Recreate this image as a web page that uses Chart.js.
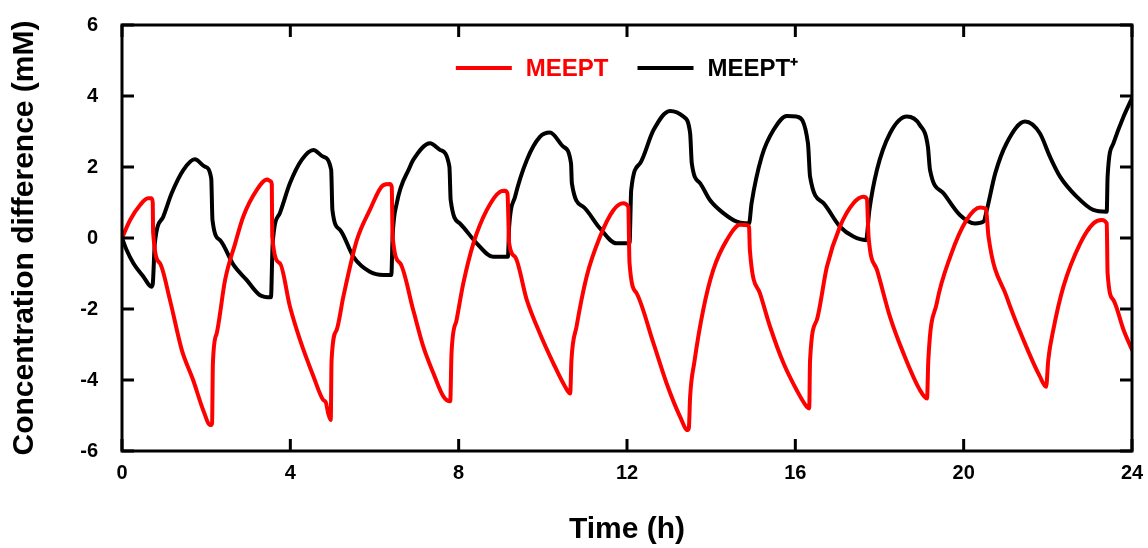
<!DOCTYPE html>
<html>
<head>
<meta charset="utf-8">
<title>Concentration difference</title>
<script src="https://cdn.jsdelivr.net/npm/chart.js@4.4.1/dist/chart.umd.min.js"></script>
<style>
  html, body { margin: 0; padding: 0; background: #fff; }
  #wrap { width: 1148px; height: 548px; }
</style>
</head>
<body>
<div id="wrap"><canvas id="chart" width="1148" height="548"></canvas></div>
<script>
// MEEPT trace (time in h, difference in mM)
const meeptTime = [
  0, 0.19, 0.43, 0.62, 0.7, 0.73, 0.74, 0.9, 1.14, 1.42, 1.69, 1.93, 2.1, 2.14, 2.16, 2.25, 2.45, 2.69, 2.88, 3.2,
  3.45, 3.53, 3.56, 3.57, 3.75, 3.99, 4.23, 4.55, 4.78, 4.84, 4.9, 4.96, 4.98, 5.1, 5.26, 5.58, 5.89, 6.21, 6.36, 6.41,
  6.43, 6.61, 6.92, 7.16, 7.4, 7.64, 7.8, 7.83, 7.95, 8.11, 8.35, 8.67, 8.98, 9.1, 9.16, 9.2, 9.34, 9.62, 9.93, 10.25,
  10.53, 10.65, 10.68, 10.8, 11.04, 11.36, 11.68, 11.91, 12.03, 12.06, 12.23, 12.63, 12.94, 13.26, 13.44, 13.47, 13.5, 13.6, 13.81, 14.05,
  14.37, 14.69, 14.86, 14.9, 14.92, 15.16, 15.4, 15.72, 16.03, 16.27, 16.33, 16.35, 16.51, 16.75, 17.06, 17.38, 17.62, 17.7, 17.74, 17.94,
  18.25, 18.57, 18.96, 19.13, 19.16, 19.36, 19.68, 20.07, 20.39, 20.53, 20.59, 21.02, 21.42, 21.81, 21.96, 22.01, 22.13, 22.37, 22.77, 23.08,
  23.28, 23.4, 23.42, 23.56, 23.8, 24
];
const meeptValue = [
  0, 0.5, 0.93, 1.12, 1.12, 1.0, 0.15, -0.71, -1.75, -3.15, -4.0, -4.85, -5.27, -5.22, -3.53, -2.69, -1.18, -0.15, 0.6, 1.35,
  1.65, 1.6, 1.5, 0.04, -0.71, -1.93, -2.87, -3.9, -4.56, -4.62, -4.94, -5.13, -3.44, -2.59, -1.65, -0.06, 0.79, 1.49, 1.52, 1.44,
  0.05, -0.71, -2.03, -3.06, -3.81, -4.47, -4.6, -3.25, -2.31, -1.28, -0.15, 0.79, 1.3, 1.33, 1.25, -0.15, -0.53, -1.75, -2.69, -3.53,
  -4.19, -4.38, -3.44, -2.5, -1.09, 0.04, 0.79, 0.98, 0.88, -0.71, -1.56, -2.97, -4.09, -5.03, -5.41, -5.35, -4.47, -3.5, -2.03, -0.9,
  -0.06, 0.37, 0.36, 0.3, -0.34, -1.56, -2.5, -3.53, -4.28, -4.75, -4.8, -3.44, -2.31, -0.81, 0.32, 0.98, 1.16, 1.1, 0.04, -0.9,
  -2.22, -3.25, -4.28, -4.52, -3.44, -1.84, -0.53, 0.51, 0.86, 0.82, 0.04, -1.65, -2.87, -3.9, -4.19, -3.44, -2.59, -1.37, -0.15, 0.41,
  0.51, 0.41, -0.99, -1.75, -2.59, -3.15
];

// MEEPT+ trace
const meeptPlusTime = [
  0, 0.11, 0.27, 0.51, 0.7, 0.73, 0.78, 0.98, 1.18, 1.46, 1.73, 1.97, 2.12, 2.15, 2.33, 2.65, 2.96, 3.28, 3.54, 3.58,
  3.75, 3.99, 4.27, 4.55, 4.78, 4.97, 5.0, 5.18, 5.5, 5.89, 6.21, 6.4, 6.43, 6.53, 6.84, 6.92, 7.32, 7.56, 7.78, 7.81,
  8.03, 8.43, 8.82, 9.17, 9.2, 9.34, 9.62, 9.93, 10.17, 10.49, 10.67, 10.69, 10.96, 11.36, 11.75, 12.06, 12.1, 12.31, 12.63, 13.02,
  13.34, 13.5, 13.54, 13.74, 13.97, 14.29, 14.61, 14.9, 14.96, 15.2, 15.48, 15.8, 16.03, 16.3, 16.35, 16.67, 17.06, 17.38, 17.68, 17.76,
  17.94, 18.25, 18.65, 18.96, 19.15, 19.2, 19.52, 19.91, 20.27, 20.47, 20.55, 20.75, 21.02, 21.46, 21.81, 22.05, 22.29, 22.69, 23.08, 23.4,
  23.42, 23.56, 23.8, 24
];
const meeptPlusValue = [
  0, -0.34, -0.71, -1.09, -1.37, -1.3, -0.15, 0.6, 1.26, 1.92, 2.22, 2.01, 1.68, 0.51, -0.06, -0.76, -1.18, -1.61, -1.67, -0.15,
  0.7, 1.54, 2.2, 2.48, 2.29, 1.92, 0.79, 0.23, -0.53, -0.95, -1.04, -1.04, 0.04, 0.98, 2.0, 2.2, 2.67, 2.48, 2.01, 1.07,
  0.41, -0.15, -0.53, -0.53, 0.32, 1.16, 2.2, 2.85, 2.97, 2.57, 2.1, 1.54, 0.88, 0.27, -0.15, -0.15, 1.35, 2.1, 3.04, 3.58,
  3.42, 2.95, 2.1, 1.54, 1.07, 0.7, 0.46, 0.41, 0.98, 2.29, 3.04, 3.44, 3.42, 2.67, 1.73, 0.98, 0.32, 0.04, -0.06, 0.79,
  1.92, 2.95, 3.42, 3.18, 2.57, 1.92, 1.26, 0.65, 0.41, 0.46, 0.79, 1.82, 2.67, 3.28, 2.95, 2.29, 1.73, 1.16, 0.79, 0.74,
  1.73, 2.67, 3.42, 3.94
];

const seriesLabels = ['MEEPT', 'MEEPT\u207A'];
const seriesColors = ['#ff0000', '#000000'];
const xTicks = [0, 4, 8, 12, 16, 20, 24];
const yTicks = [-6, -4, -2, 0, 2, 4, 6];

const FONT = '"Liberation Sans", Arial, Helvetica, sans-serif';

function toPoints(xs, ys) {
  return xs.map((x, i) => ({ x: x, y: ys[i] }));
}

// box around the plot with inward tick marks on all four sides
const frameTicks = {
  id: 'frameTicks',
  afterDraw(chart) {
    const { ctx, chartArea: a, scales } = chart;
    const len = 12;
    ctx.save();
    ctx.strokeStyle = '#000';
    ctx.lineWidth = 3;
    ctx.beginPath();
    xTicks.forEach(v => {
      const px = scales.x.getPixelForValue(v);
      ctx.moveTo(px, a.bottom); ctx.lineTo(px, a.bottom - len);
      ctx.moveTo(px, a.top); ctx.lineTo(px, a.top + len);
    });
    yTicks.forEach(v => {
      const py = scales.y.getPixelForValue(v);
      ctx.moveTo(a.left, py); ctx.lineTo(a.left + len, py);
      ctx.moveTo(a.right, py); ctx.lineTo(a.right - len, py);
    });
    ctx.stroke();
    ctx.strokeRect(a.left, a.top, a.right - a.left, a.bottom - a.top);
    ctx.restore();
  }
};

// one-row legend sitting inside the top of the plot
const innerLegend = {
  id: 'innerLegend',
  afterDraw(chart) {
    const { ctx, chartArea: a } = chart;
    const lineLen = 56, gap = 14, itemGap = 29;
    const y = a.top + 43;
    ctx.save();
    ctx.font = 'bold 24px ' + FONT;
    ctx.textBaseline = 'middle';
    const items = chart.data.datasets.map(ds => ({
      text: ds.label, color: ds.borderColor, w: lineLen + gap + ctx.measureText(ds.label).width
    }));
    const total = items.reduce((s, it) => s + it.w, 0) + itemGap * (items.length - 1);
    let x = (a.left + a.right) / 2 - total / 2;
    items.forEach(it => {
      ctx.strokeStyle = it.color;
      ctx.lineWidth = 4;
      ctx.beginPath();
      ctx.moveTo(x, y); ctx.lineTo(x + lineLen, y);
      ctx.stroke();
      ctx.fillStyle = it.color;
      ctx.fillText(it.text, x + lineLen + gap, y + 1);
      x += it.w + itemGap;
    });
    ctx.restore();
  }
};

new Chart(document.getElementById('chart'), {
  type: 'line',
  data: {
    datasets: [
      {
        label: seriesLabels[0],
        data: toPoints(meeptTime, meeptValue),
        borderColor: seriesColors[0],
        borderWidth: 4,
        pointRadius: 0,
        cubicInterpolationMode: 'monotone',
        borderJoinStyle: 'round',
        borderCapStyle: 'round'
      },
      {
        label: seriesLabels[1],
        data: toPoints(meeptPlusTime, meeptPlusValue),
        borderColor: seriesColors[1],
        borderWidth: 4,
        pointRadius: 0,
        cubicInterpolationMode: 'monotone',
        borderJoinStyle: 'round',
        borderCapStyle: 'round'
      }
    ]
  },
  options: {
    responsive: false,
    animation: false,
    layout: { padding: { left: 0, top: 25, right: 16, bottom: 0 } },
    plugins: {
      legend: { display: false },
      tooltip: { enabled: false }
    },
    scales: {
      x: {
        type: 'linear',
        min: 0,
        max: 24,
        // fixed axis band; end labels may spill into the page margin
        afterFit: s => { s.height = 97; s.paddingLeft = 0; s.paddingRight = 0; },
        afterBuildTicks: s => { s.ticks = xTicks.map(v => ({ value: v })); },
        grid: { display: false, drawTicks: false },
        border: { display: false },
        ticks: { color: '#000', padding: 10, font: { family: FONT, size: 20, weight: 'bold' } },
        title: {
          display: true,
          text: 'Time (h)',
          color: '#000',
          padding: { top: 0, bottom: 0 },
          font: { family: FONT, size: 30, weight: 'bold' }
        }
      },
      y: {
        min: -6,
        max: 6,
        afterFit: s => { s.width = 122; s.paddingTop = 0; s.paddingBottom = 0; },
        afterBuildTicks: s => { s.ticks = yTicks.map(v => ({ value: v })); },
        grid: { display: false, drawTicks: false },
        border: { display: false },
        ticks: { color: '#000', padding: 24, font: { family: FONT, size: 20, weight: 'bold' } },
        title: {
          display: true,
          text: 'Concentration difference (mM)',
          color: '#000',
          padding: { top: 7, bottom: 0 },
          font: { family: FONT, size: 30, weight: 'bold' }
        }
      }
    }
  },
  plugins: [frameTicks, innerLegend]
});
</script>
</body>
</html>
